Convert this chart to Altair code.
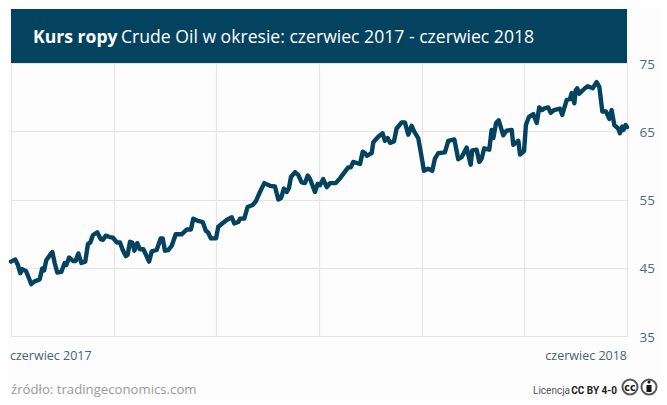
import altair as alt
import pandas as pd

days = [0,2.5,4.1,5.5,6.7,8.9,10.1,12.0,14.0,17.0,18.5,19.6,20.9,22.9,24.5,25.9,27.4,29.8,31.8,32.8,34.4,36.7,38.3,39.9,41.7,44.0,45.6,47.0,48.6,51.1,53.1,54.5,56.1,58.5,60.4,62.8,64.6,66.2,68.0,69.1,70.5,71.9,73.1,74.8,76.4,78.4,80.0,81.8,83.4,86.3,88.7,89.9,91.2,93.2,95.2,97.6,101.1,104.1,106.6,108.0,110.4,113.6,115.5,116.7,118.5,121.5,122.8,124.8,127.8,130.8,132.3,134.7,135.7,138.2,140.2,143.2,145.0,147.5,150.1,153.5,156.4,158.4,160.0,161.7,163.4,164.7,165.9,168.3,170.2,172.2,174.2,175.8,177.2,180.1,181.7,183.1,185.0,187.1,189.0,192.4,194.9,199.8,201.3,202.8,206.8,208.4,209.7,210.8,213.7,214.7,217.6,220.2,221.6,223.2,224.6,226.9,228.5,231.5,233.4,235.4,237.4,239.0,241.3,242.9,244.7,247.2,249.6,251.2,253.2,257.1,259.1,262.7,265.0,267.0,270.0,272.4,273.3,275.9,277.5,278.9,280.4,283.4,284.8,285.8,287.4,289.0,291.7,293.7,296.7,297.6,300.6,301.6,304.0,305.1,306.9,309.5,311.5,313.0,314.6,316.4,318.3,319.8,321.7,325.3,326.6,329.3,331.2,332.2,333.8,334.6,335.5,336.7,340.1,341.7,344.7,347.0,348.6,350.4,352.5,354.5,355.9,357.5,359.8,360.8,362.2,362.9,364.2,365]
price = [45.9,46.2,45.4,44.2,44.8,44.5,43.8,42.6,43.0,43.3,44.9,44.6,46.1,46.8,47.3,45.7,44.3,44.4,45.7,45.4,46.5,46.0,46.0,47.1,45.7,45.9,48.5,48.7,49.8,50.2,49.2,49.1,49.7,49.5,49.4,48.7,48.7,47.6,46.7,46.9,48.8,48.7,47.5,48.6,47.7,47.7,46.9,45.9,47.4,47.6,49.3,49.3,47.5,47.6,48.2,49.9,49.9,50.6,50.6,52.2,51.9,51.7,50.4,50.2,49.3,49.3,51.0,51.4,52.0,52.4,51.5,51.7,52.2,52.2,53.9,54.2,54.7,56.1,57.4,57.0,56.9,55.0,55.2,56.6,56.1,56.7,58.3,59.0,58.6,57.5,57.4,58.5,58.0,56.1,57.3,57.1,58.0,56.8,57.4,57.4,58.1,59.7,59.7,60.5,60.2,62.0,61.8,61.4,61.8,63.4,64.2,64.7,63.6,64.0,63.3,63.5,65.4,66.3,66.3,64.5,65.8,64.9,64.0,61.8,59.2,59.5,59.2,61.0,61.8,61.9,63.6,63.8,60.9,61.2,62.6,60.1,62.2,62.3,60.5,61.0,62.5,62.3,65.2,64.0,66.2,66.6,64.4,65.1,65.2,63.0,63.6,61.6,62.1,65.9,67.1,67.5,66.2,68.5,68.1,68.4,68.5,67.7,68.1,68.3,67.4,69.6,69.7,70.6,69.1,71.0,71.3,70.5,71.3,71.6,71.3,72.2,71.5,67.9,67.9,66.8,68.1,65.9,65.4,64.7,65.7,65.2,65.9,65.6]
grid_days = [0, 60.83, 121.67, 182.5, 243.33, 304.17, 365]
price_ticks = [35, 45, 55, 65, 75]
title_bold = "Kurs ropy"
title_rest = "Crude Oil w okresie: czerwiec 2017 - czerwiec 2018"
start_label = "czerwiec 2017"
end_label = "czerwiec 2018"
source = "źródło: tradingeconomics.com"
lic_a = "Licencja"
lic_b = "CC BY 4-0"

DARK = "#04435f"
FONT = "Open Sans"
SMALL = "Roboto"
X = alt.Scale(domain=[0, 365], nice=False, zero=False)
Y = alt.Scale(domain=[35, 75], nice=False, zero=False)
df = pd.DataFrame({"day": days, "price": price})

line = alt.Chart(df).mark_line(color=DARK, strokeWidth=4.4, strokeJoin="round", strokeCap="round", clip=False).encode(
    x=alt.X("day:Q", scale=X, axis=alt.Axis(values=grid_days, labels=False, ticks=False, domain=False, title=None,
                                            grid=True, gridColor="#e4e4e4", gridWidth=1.2)),
    y=alt.Y("price:Q", scale=Y, axis=alt.Axis(values=price_ticks, orient="right", ticks=False, domain=False, title=None,
                                              grid=True, gridColor="#e4e4e4", gridWidth=1.2, labelFont=FONT, labelFontSize=13.5,
                                              labelColor="#4b6c7d", labelPadding=12, labelBaseline="middle", labelOffset=1)),
)

def txt(s, px, py, color, size, align="left", weight="normal", font=FONT):
    # px, py are page positions of the annotation; the plot area starts at (11, 63)
    return alt.Chart(pd.DataFrame({"t": [s]})).mark_text(align=align, baseline="alphabetic", color=color, fontSize=size,
                                                          fontWeight=weight, font=font).encode(
        text="t:N", x=alt.value(px - 11), y=alt.value(py - 63))

header = alt.Chart(pd.DataFrame({"a": [0]})).mark_rect(color=DARK).encode(
    x=alt.value(0), x2=alt.value(616), y=alt.value(9 - 63), y2=alt.value(0))

def ring(px, py):
    return alt.Chart(pd.DataFrame({"a": [0]})).mark_point(shape="circle", size=227, filled=False, color="#111111", strokeWidth=2).encode(
        x=alt.value(px - 11), y=alt.value(py - 63))

head = alt.Chart(pd.DataFrame({"a": [0]})).mark_point(shape="circle", size=9, filled=True, color="#111111", opacity=1).encode(
    x=alt.value(649 - 11), y=alt.value(382 - 63))
body = alt.Chart(pd.DataFrame({"a": [0]})).mark_rect(color="#111111").encode(
    x=alt.value(646.5 - 11), x2=alt.value(651.5 - 11), y=alt.value(385 - 63), y2=alt.value(392 - 63))

chart = alt.layer(
    line,
    header,
    txt(title_bold, 33, 43, "#ffffff", 17.6, weight="bold"),
    txt(title_rest, 121, 43, "#ffffff", 17.6),
    txt(start_label, 10, 360, "#3f6577", 12.5),
    txt(end_label, 627, 360, "#3f6577", 12.5, align="right"),
    txt(source, 11, 393.5, "#9a9a9a", 13.2),
    txt(lic_a, 570, 393.5, "#555555", 10, align="right", font=SMALL),
    txt(lic_b, 617, 393.5, "#222222", 10, align="right", weight="bold", font=SMALL),
    ring(630, 387),
    txt("cc", 630, 391, "#111111", 11, align="center", weight="bold"),
    ring(649, 387),
    head,
    body,
).properties(
    width=616, height=273,
    padding={"left": 3, "top": 55, "right": 32, "bottom": 61},
    autosize=alt.AutoSizeParams(type="none"),
    background="#fdfdfd",
).configure_view(stroke=None)

chart.save("out.html", embed_options={"renderer": "svg", "actions": False})
